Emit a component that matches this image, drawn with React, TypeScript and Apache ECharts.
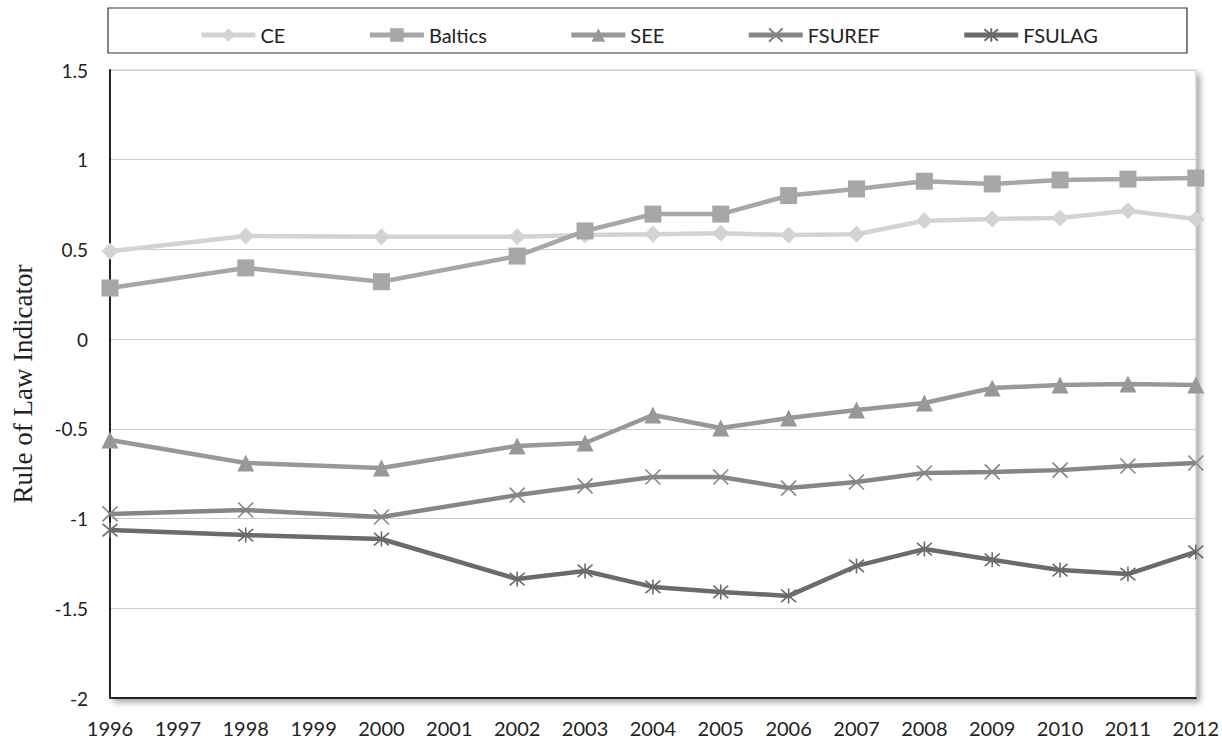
import React, { useEffect, useRef } from "react";
import * as echarts from "echarts";

const years = ["1996","1997","1998","1999","2000","2001","2002","2003","2004","2005","2006","2007","2008","2009","2010","2011","2012"];
const ce = [0.49, null, 0.575, null, 0.57, null, 0.57, 0.58, 0.585, 0.59, 0.58, 0.585, 0.66, 0.67, 0.675, 0.715, 0.67];
const baltics = [0.285, null, 0.397, null, 0.32, null, 0.463, 0.603, 0.697, 0.697, 0.80, 0.837, 0.88, 0.865, 0.887, 0.892, 0.898];
const see = [-0.562, null, -0.69, null, -0.718, null, -0.595, -0.579, -0.423, -0.495, -0.44, -0.395, -0.356, -0.272, -0.256, -0.25, -0.256];
const fsuref = [-0.974, null, -0.952, null, -0.991, null, -0.869, -0.818, -0.768, -0.768, -0.83, -0.796, -0.746, -0.74, -0.73, -0.707, -0.69];
const fsulag = [-1.064, null, -1.092, null, -1.114, null, -1.337, -1.292, -1.381, -1.409, -1.431, -1.264, -1.17, -1.23, -1.287, -1.309, -1.186];

const seriesNames = ["CE", "Baltics", "SEE", "FSUREF", "FSULAG"];
const colors = ["#d3d3d3", "#a7a7a9", "#98989a", "#868686", "#6b6b6b"];

const xPath = "path://M0,0L10,10M10,0L0,10";
const starPath = "path://M0,0L10,10M10,0L0,10M5,-1L5,11";

export default function App() {
  const ref = useRef<HTMLDivElement>(null);
  useEffect(() => {
    if (!ref.current) return;
    const chart = echarts.init(ref.current, undefined, { renderer: "svg" });
    const dataSets = [ce, baltics, see, fsuref, fsulag];
    const symbols = ["diamond", "rect", "triangle", xPath, starPath];
    const sizes = [17, 17, 17, 15, 15];
    const series = dataSets.map((d, i) => {
      const stroke = i >= 3;
      return {
        name: seriesNames[i],
        type: "line",
        data: d,
        connectNulls: true,
        symbol: symbols[i],
        symbolSize: sizes[i],
        showSymbol: true,
        lineStyle: { color: colors[i], width: 4.5 },
        itemStyle: stroke
          ? { color: "rgba(0,0,0,0)", borderColor: colors[i], borderWidth: 1.6 }
          : { color: colors[i], borderWidth: 0 },
        emphasis: { disabled: true },
        z: 2 + i,
      };
    });
    chart.setOption({
      animation: false,
      backgroundColor: "#ffffff",
      grid: {
        left: 110,
        right: 25,
        top: 70,
        bottom: 45,
        show: true,
        borderColor: "#cfcfcf",
        borderWidth: 1,
        backgroundColor: "#ffffff",
        shadowColor: "rgba(0,0,0,0.35)",
        shadowBlur: 6,
        shadowOffsetX: 4,
        shadowOffsetY: 4,
      },
      legend: {
        data: seriesNames,
        left: 194,
        top: 20,
        itemWidth: 54,
        itemHeight: 17,
        itemGap: 82,
        lineStyle: { width: 5 },
        textStyle: { fontFamily: "Lato, 'Open Sans', sans-serif", fontSize: 20, color: "#222" },
      },
      graphic: [
        {
          type: "rect",
          shape: { x: 108, y: 8, width: 1079, height: 45 },
          style: { fill: "none", stroke: "#333", lineWidth: 1.2 },
          silent: true,
        },
      ],
      xAxis: {
        type: "category",
        data: years,
        boundaryGap: false,
        axisLine: { show: true, onZero: false, lineStyle: { color: "#222", width: 2 } },
        axisTick: { show: false },
        axisLabel: {
          fontFamily: "Lato, 'Open Sans', sans-serif",
          fontSize: 20,
          color: "#222",
          margin: 20,
          interval: 0,
        },
        splitLine: { show: false },
      },
      yAxis: {
        type: "value",
        min: -2,
        max: 1.5,
        interval: 0.5,
        name: "Rule of Law Indicator",
        nameLocation: "middle",
        nameGap: 74,
        nameTextStyle: { fontFamily: "'Liberation Serif', 'DejaVu Serif', serif", fontSize: 27, color: "#222" },
        axisLine: { show: true, lineStyle: { color: "#222", width: 2 } },
        axisTick: { show: false },
        axisLabel: {
          fontFamily: "Lato, 'Open Sans', sans-serif",
          fontSize: 19,
          color: "#222",
          margin: 22,
        },
        splitLine: { show: true, lineStyle: { color: "#cccccc", width: 1 } },
      },
      series,
    });
    return () => chart.dispose();
  }, []);
  return (
    <div
      ref={ref}
      style={{ position: "fixed", left: 0, top: 0, width: 1222, height: 743, background: "#fff" }}
    />
  );
}
